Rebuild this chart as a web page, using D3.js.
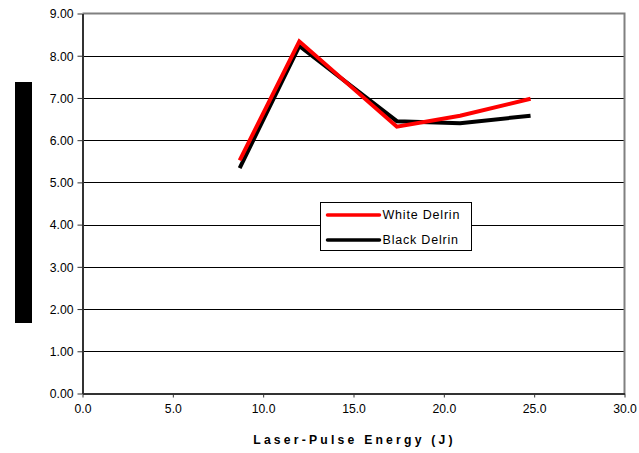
<!DOCTYPE html>
<html><head><meta charset="utf-8">
<script src="https://cdn.jsdelivr.net/npm/d3@7/dist/d3.min.js"></script>
<style>body{margin:0;background:#fff;}svg{display:block;font-family:"Liberation Sans",Arial,sans-serif;}</style>
</head><body>
<script>
const energies = [8.7, 12.0, 17.4, 20.9, 24.8];
const whiteDelrin = [5.52, 8.34, 6.32, 6.58, 6.98];
const blackDelrin = [5.34, 8.23, 6.45, 6.40, 6.58];
const seriesNames = ["White Delrin", "Black Delrin"];
const seriesColors = ["#ff0000", "#000000"];
const xTicks = [0, 5, 10, 15, 20, 25, 30];
const yTicks = [0, 1, 2, 3, 4, 5, 6, 7, 8, 9];
const xTitle = "Laser-Pulse Energy (J)";

const W = 639, H = 453;
const m = {l: 82.5, r: 624.5, t: 13.5, b: 393.5};
const svg = d3.select("body").append("svg").attr("width", W).attr("height", H);
const x = d3.scaleLinear().domain([0, 30]).range([m.l, m.r]);
const y = d3.scaleLinear().domain([0, 9]).range([m.b, m.t]);

// gridlines
svg.append("g").selectAll("line").data(yTicks.filter(d => d > 0 && d < 9)).join("line")
  .attr("x1", m.l).attr("x2", m.r).attr("y1", d => Math.round(y(d)) + 0.5).attr("y2", d => Math.round(y(d)) + 0.5)
  .attr("stroke", "#000").attr("stroke-width", 1);
// top/right border
svg.append("path").attr("d", `M${m.l},${m.t}H${m.r}V${m.b}`).attr("fill", "none")
  .attr("stroke", "#808080").attr("stroke-width", 2);

// axes
const yAxis = svg.append("g").attr("transform", `translate(${m.l},0)`)
  .call(d3.axisLeft(y).tickValues(yTicks).tickFormat(d3.format(".2f")).tickSize(5).tickSizeOuter(0));
const xAxis = svg.append("g").attr("transform", `translate(0,${m.b})`)
  .call(d3.axisBottom(x).tickValues(xTicks).tickFormat(d3.format(".1f")).tickSize(4).tickSizeOuter(0));
[yAxis, xAxis].forEach(a => {
  a.select(".domain").attr("stroke", "#333").attr("stroke-width", 2);
  a.selectAll(".tick line").attr("stroke", "#333");
  a.selectAll("text").attr("font-size", 12.2).attr("fill", "#000").attr("font-family", '"Liberation Sans",Arial,sans-serif');
});
yAxis.selectAll("text").attr("x", -9).attr("dy", "0.35em");
xAxis.selectAll("text").attr("y", 11);

// y-axis title block (rendered as solid bar in reference)
svg.append("rect").attr("x", 15).attr("y", 82).attr("width", 17).attr("height", 241).attr("fill", "#000");

// x title
svg.append("text").attr("x", (m.l + m.r) / 2 + 1).attr("y", 444).attr("text-anchor", "middle")
  .attr("font-size", 12.2).attr("font-weight", "bold").attr("letter-spacing", "3.2px").text(xTitle);

// lines
const seriesData = [whiteDelrin, blackDelrin];
const line = d3.line().x((d, i) => x(energies[i])).y(d => y(d));
[1, 0].forEach(k => {
  svg.append("path").datum(seriesData[k]).attr("d", line).attr("fill", "none")
    .attr("stroke", seriesColors[k]).attr("stroke-width", 4).attr("stroke-linejoin", "miter");
});

// legend
const lg = svg.append("g").attr("transform", "translate(320.5,202.5)");
lg.append("rect").attr("width", 151).attr("height", 48).attr("fill", "#fff").attr("stroke", "#000").attr("stroke-width", 1);
seriesNames.forEach((n, i) => {
  const yy = 12.5 + i * 25;
  lg.append("line").attr("x1", 7).attr("x2", 59).attr("y1", yy).attr("y2", yy)
    .attr("stroke", seriesColors[i]).attr("stroke-width", 3.5).attr("stroke-linecap", "round");
  lg.append("text").attr("x", 62).attr("y", yy).attr("dy", "0.35em").attr("font-size", 12.5)
    .attr("letter-spacing", "0.8px").text(n);
});
</script>
</body></html>
